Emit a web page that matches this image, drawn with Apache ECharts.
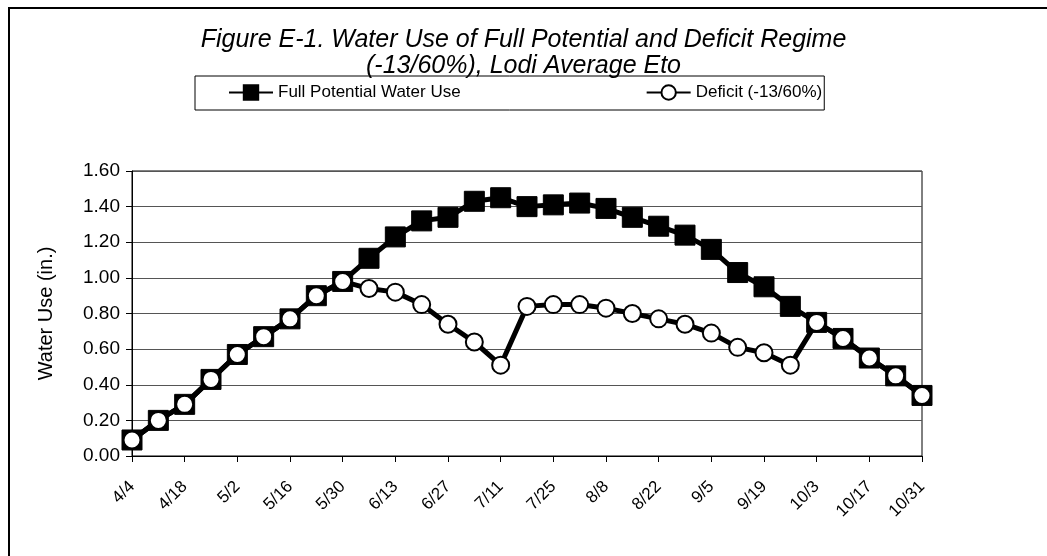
<!DOCTYPE html>
<html>
<head>
<meta charset="utf-8">
<script src="https://cdn.jsdelivr.net/npm/echarts@6/dist/echarts.min.js"></script>
<style>
  html, body { margin: 0; padding: 0; background: #fff; }
  #chart { width: 1047px; height: 556px; }
</style>
</head>
<body>
<div id="chart"></div>
<script>
// weekly dates, 4/4 .. 10/31
const dates = [
  '4/4', '4/11', '4/18', '4/25', '5/2', '5/9', '5/16', '5/23', '5/30', '6/6',
  '6/13', '6/20', '6/27', '7/4', '7/11', '7/18', '7/25', '8/1', '8/8', '8/15',
  '8/22', '8/29', '9/5', '9/12', '9/19', '9/26', '10/3', '10/10', '10/17', '10/24', '10/31'
]

const fullUse = [
  0.09, 0.20, 0.29, 0.43, 0.57, 0.67, 0.77, 0.90, 0.98, 1.11,
  1.23, 1.32, 1.34, 1.43, 1.45, 1.40, 1.41, 1.42, 1.39, 1.34,
  1.29, 1.24, 1.16, 1.03, 0.95, 0.84, 0.75, 0.66, 0.55, 0.45, 0.34
]

const deficitUse = [
  0.09, 0.20, 0.29, 0.43, 0.57, 0.67, 0.77, 0.90, 0.98, 0.94,
  0.92, 0.85, 0.74, 0.64, 0.51, 0.84, 0.85, 0.85, 0.83, 0.80,
  0.77, 0.74, 0.69, 0.61, 0.58, 0.51, 0.75, 0.66, 0.55, 0.45, 0.34
]

const font = '"Liberation Sans", Arial, sans-serif'

const chart = echarts.init(document.getElementById('chart'))

chart.setOption({
  animation: false,
  title: {
    text: 'Figure E-1. Water Use of Full Potential and Deficit Regime\n(-13/60%), Lodi Average Eto',
    left: 'center',
    top: 22,
    textStyle: {
      fontFamily: font,
      fontSize: 25,
      fontStyle: 'italic',
      fontWeight: 'normal',
      color: '#000',
      lineHeight: 26
    }
  },
  legend: {
    left: 195,
    top: 76,
    padding: [8, 2, 9, 33],
    itemGap: 185,
    itemWidth: 44,
    itemHeight: 18,
    borderColor: '#000',
    borderWidth: 1,
    textStyle: { fontFamily: font, fontSize: 17, color: '#000' },
    data: ['Full Potential Water Use', 'Deficit (-13/60%)']
  },
  grid: {
    left: 132,
    right: 125,
    top: 171,
    bottom: 100,
    show: true,
    borderColor: '#000',
    borderWidth: 1
  },
  xAxis: {
    type: 'category',
    data: dates,
    boundaryGap: false,
    axisLine: { lineStyle: { color: '#000' } },
    axisTick: { interval: 1, length: 6, lineStyle: { color: '#000' } },
    axisLabel: {
      interval: 1,
      rotate: 45,
      margin: 28,
      fontFamily: font,
      fontSize: 17,
      color: '#000'
    },
    splitLine: { show: false }
  },
  yAxis: {
    type: 'value',
    min: 0,
    max: 1.6,
    interval: 0.2,
    name: 'Water Use (in.)',
    nameLocation: 'middle',
    nameGap: 76,
    nameTextStyle: { fontFamily: font, fontSize: 20, color: '#000' },
    axisLine: { show: true, lineStyle: { color: '#000' } },
    axisTick: { show: true, length: 6, lineStyle: { color: '#000' } },
    axisLabel: {
      formatter: v => v.toFixed(2),
      fontFamily: font,
      fontSize: 19,
      color: '#000',
      margin: 12
    },
    splitLine: { lineStyle: { color: '#555', width: 1 } }
  },
  series: [
    {
      name: 'Full Potential Water Use',
      type: 'line',
      data: fullUse,
      symbol: 'rect',
      symbolSize: 20,
      showAllSymbol: true,
      lineStyle: { color: '#000', width: 5 },
      itemStyle: { color: '#000', borderColor: '#000', borderWidth: 1 },
      z: 2
    },
    {
      name: 'Deficit (-13/60%)',
      type: 'line',
      data: deficitUse,
      symbol: 'circle',
      symbolSize: 17,
      showAllSymbol: true,
      lineStyle: { color: '#000', width: 5 },
      itemStyle: { color: '#fff', borderColor: '#000', borderWidth: 2 },
      z: 3
    }
  ],
  graphic: [
    {
      type: 'polyline',
      shape: { points: [[9, 556], [9, 8], [1047, 8]] },
      style: { stroke: '#000', lineWidth: 2, fill: null }
    }
  ]
})
</script>
</body>
</html>
